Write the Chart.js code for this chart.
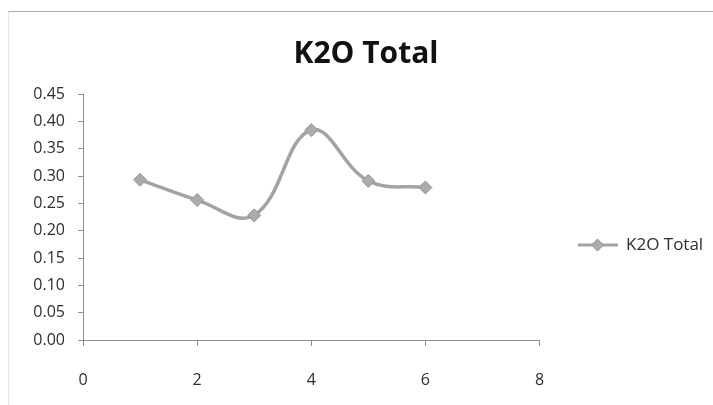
<!DOCTYPE html>
<html>
<head>
<meta charset="utf-8">
<script src="https://cdn.jsdelivr.net/npm/chart.js@4"></script>
<style>
  html, body { margin: 0; padding: 0; background: #fff; }
  #wrap { position: relative; width: 713px; height: 405px; }
  #wrap canvas { position: absolute; left: 0; top: 0; }
  #frame { position: absolute; left: 8px; top: 11px; right: 0; bottom: 0;
           border-top: 1px solid #a9a9a9; border-left: 1px solid #e6e6e6; pointer-events: none; }
</style>
</head>
<body>
<div id="wrap">
  <canvas id="chart" width="713" height="405"></canvas>
  <div id="frame"></div>
</div>
<script>
// Sample positions and measured K2O totals
const sampleX = [1, 2, 3, 4, 5, 6];
const k2oTotal = [0.293, 0.256, 0.228, 0.384, 0.291, 0.279];
const seriesName = 'K2O Total';
const chartTitle = 'K2O Total';
const xTickValues = [0, 2, 4, 6, 8];
const yTickValues = [0, 0.05, 0.10, 0.15, 0.20, 0.25, 0.30, 0.35, 0.40, 0.45];

const FONT = '"Open Sans", "DejaVu Sans", sans-serif';
const LINE_COLOR = '#a3a3a3';
const MARKER_FILL = '#ababab';
const MARKER_EDGE = '#959595';
const AXIS_COLOR = '#8e8e8e';
const TEXT_COLOR = '#2e2e2e';

const points = sampleX.map((x, i) => ({ x: x, y: k2oTotal[i] }));

// Legend symbol: a short line sample with the diamond marker on it
function legendSymbol() {
  const c = document.createElement('canvas');
  c.width = 40; c.height = 14;
  const g = c.getContext('2d');
  g.strokeStyle = LINE_COLOR;
  g.lineWidth = 3;
  g.beginPath(); g.moveTo(0, 7); g.lineTo(40, 7); g.stroke();
  const cx = 20, cy = 7, r = 6;
  g.fillStyle = MARKER_FILL;
  g.strokeStyle = MARKER_EDGE;
  g.lineWidth = 1;
  g.beginPath();
  g.moveTo(cx, cy - r); g.lineTo(cx + r, cy); g.lineTo(cx, cy + r); g.lineTo(cx - r, cy);
  g.closePath(); g.fill(); g.stroke();
  return c;
}

new Chart(document.getElementById('chart'), {
  type: 'scatter',
  data: {
    datasets: [{
      label: seriesName,
      data: points,
      showLine: true,
      tension: 0.4,
      borderColor: LINE_COLOR,
      borderWidth: 3.5,
      pointStyle: 'rectRot',
      pointRadius: 6.5,
      pointBackgroundColor: MARKER_FILL,
      pointBorderColor: MARKER_EDGE,
      pointBorderWidth: 1
    }]
  },
  options: {
    responsive: false,
    animation: false,
    layout: { padding: { left: 19, right: 0, top: 20, bottom: 9 } },
    plugins: {
      tooltip: { enabled: false },
      title: {
        display: true,
        text: chartTitle,
        color: '#111',
        font: { family: FONT, size: 30, weight: 'bold' },
        padding: { top: 16, bottom: 22 }
      },
      legend: {
        display: true,
        position: 'right',
        // empty heading only lowers the entry to sit level with the plot
        title: { display: true, text: '', font: { size: 10 }, padding: { top: 62, bottom: 0 } },
        labels: {
          usePointStyle: true,
          pointStyle: legendSymbol(),
          pointStyleWidth: 40,
          padding: 38,
          color: TEXT_COLOR,
          font: { family: FONT, size: 17 }
        }
      }
    },
    scales: {
      x: {
        type: 'linear',
        min: 0,
        max: 8,
        afterBuildTicks(scale) { scale.ticks = xTickValues.map(v => ({ value: v })); },
        afterFit(scale) { scale.height = 56; },
        grid: { drawOnChartArea: false, drawTicks: true, tickLength: 6, color: AXIS_COLOR },
        border: { display: true, color: AXIS_COLOR, width: 1 },
        ticks: { color: TEXT_COLOR, padding: 25, font: { family: FONT, size: 16 },
                 maxRotation: 0, callback: v => String(v) }
      },
      y: {
        min: 0,
        max: 0.45,
        afterBuildTicks(scale) { scale.ticks = yTickValues.map(v => ({ value: v })); },
        afterFit(scale) { scale.width = 64; },
        grid: { drawOnChartArea: false, drawTicks: true, tickLength: 5, color: AXIS_COLOR },
        border: { display: true, color: AXIS_COLOR, width: 1 },
        ticks: { color: TEXT_COLOR, padding: 13, font: { family: FONT, size: 16 },
                 callback: v => Number(v).toFixed(2) }
      }
    }
  }
});
</script>
</body>
</html>
